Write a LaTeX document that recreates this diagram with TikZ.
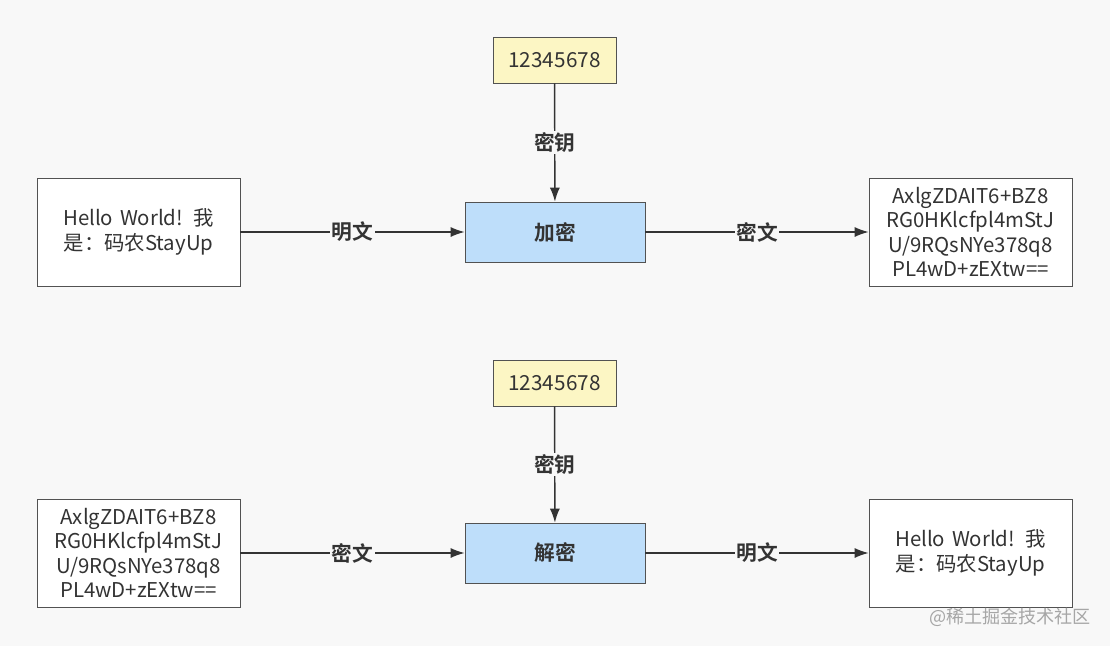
\documentclass[tikz,border=0pt]{standalone}
\usepackage{fontspec}
\setmainfont{Noto Sans CJK SC}[BoldFont={Noto Sans CJK SC Bold}]
\usetikzlibrary{positioning,arrows.meta}
\definecolor{bgcol}{RGB}{248,248,248}
\definecolor{keycol}{RGB}{252,246,196}
\definecolor{cryptcol}{RGB}{190,222,250}
\definecolor{linecol}{RGB}{51,51,51}

\begin{document}
\begin{tikzpicture}[x=0.02cm,y=-0.02cm,
      textbox/.style={rectangle,draw=linecol!85,fill=white,minimum width=4.06cm,minimum height=2.16cm,text width=3.8cm,align=center,font=\fontsize{11.6}{13.9}\selectfont,text=linecol},
      keybox/.style={rectangle,draw=linecol!85,fill=keycol,minimum width=2.46cm,minimum height=0.92cm,font=\fontsize{11.8}{13}\selectfont,text=linecol},
      cryptbox/.style={rectangle,draw=linecol!85,fill=cryptcol,minimum width=3.6cm,minimum height=1.2cm,font=\bfseries\fontsize{11.8}{13}\selectfont,text=linecol},
      lbl/.style={fill=bgcol,inner sep=1pt,font=\bfseries\fontsize{11.8}{13}\selectfont,text=linecol},
      arr/.style={draw=linecol,thick,-{Latex[length=2.8mm,width=2mm]}}
      ]
      \fill[bgcol] (0,0) rectangle (1110,646);
      \useasboundingbox (0,0) rectangle (1110,646);
      % encryption
      \node (key1) [keybox] at (554.5,60) {12345678};
      \node (enc) [cryptbox] at (555,232) {加密};
      \node (plain1) [textbox] at (138.5,232) {Hello World! 我\\是：码农StayUp};
      \node (cipher1) [textbox] at (970.5,232) {AxlgZDAIT6+BZ8\\RG0HKlcfpl4mStJ\\U/9RQsNYe378q8\\PL4wD+zEXtw==};
      \draw[arr] (key1) -- node[lbl] {密钥} (enc);
      \draw[arr] (plain1) -- node[lbl] {明文} (enc);
      \draw[arr] (enc) -- node[lbl] {密文} (cipher1);
      % decryption
      \node (key2) [keybox] at (554.5,383) {12345678};
      \node (dec) [cryptbox] at (555,553) {解密};
      \node (cipher2) [textbox] at (138.5,553) {AxlgZDAIT6+BZ8\\RG0HKlcfpl4mStJ\\U/9RQsNYe378q8\\PL4wD+zEXtw==};
      \node (plain2) [textbox] at (970.5,553) {Hello World! 我\\是：码农StayUp};
      \draw[arr] (key2) -- node[lbl] {密钥} (dec);
      \draw[arr] (cipher2) -- node[lbl] {密文} (dec);
      \draw[arr] (dec) -- node[lbl] {明文} (plain2);
      \node (mark) [text=black!35,font=\fontsize{10.3}{12}\selectfont] at (1010,617) {@稀土掘金技术社区};
\end{tikzpicture}
\end{document}
